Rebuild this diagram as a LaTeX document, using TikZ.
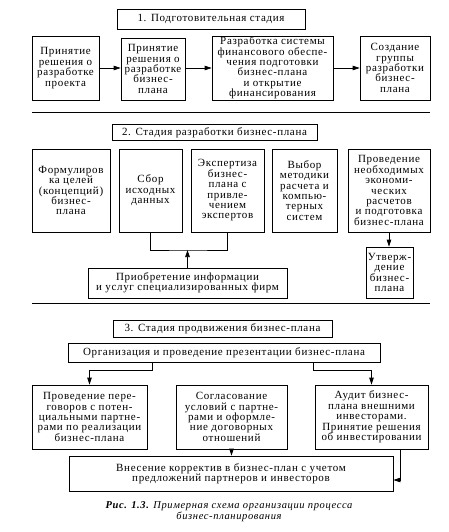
\documentclass[tikz,border=0pt]{standalone}
\usepackage{fontspec}
\setmainfont{Liberation Serif}[LetterSpace=6]
\usetikzlibrary{arrows.meta}
\begin{document}
\begin{tikzpicture}[x=1pt,y=-1pt,
  box/.style={draw, line width=0.7pt, align=center, inner sep=1pt, font=\fontsize{11}{10.4}\selectfont},
  arr/.style={-{Triangle[length=7pt,width=4.5pt]}, line width=0.7pt},
  con/.style={line width=0.7pt},
  sep/.style={line width=0.8pt}]
\useasboundingbox (0,0) rectangle (449,532);
\fill[white] (0,0) rectangle (449,532);

% ---------- Stage 1 ----------
\node[box, minimum width=188pt, minimum height=20pt] (t1) at (211,19) {1. Подготовительная стадия};
\node[box, minimum width=67pt, minimum height=64pt] (a1) at (65.5,68) {Принятие\\решения о\\разработке\\проекта};
\node[box, minimum width=64pt, minimum height=62pt] (a2) at (153,69) {Принятие\\решения о\\разработке\\бизнес-\\плана};
\node[box, minimum width=121pt, minimum height=64pt] (a3) at (272.5,68) {Разработка системы\\финансового обеспе-\\чения подготовки\\бизнес-плана\\и открытие\\финансирования};
\node[box, minimum width=70pt, minimum height=64pt] (a4) at (395,68) {Создание\\группы\\разработки\\бизнес-\\плана};
\draw[arr] (a1.east) -- (a1.east -| a2.west);
\draw[arr] (a2.east |- a1.east) -- (a1.east -| a3.west);
\draw[arr] (a3.east) -- (a3.east -| a4.west);
\draw[sep] (32,112) -- (430,112);

% ---------- Stage 2 ----------
\node[box, minimum width=205pt, minimum height=16pt] (t2) at (214.5,132.5) {2. Стадия разработки бизнес-плана};
\node[box, minimum width=78pt, minimum height=83pt] (b1) at (71,190.5) {Формулиров\\ка целей\\(концепций)\\бизнес-\\плана};
\node[box, minimum width=63pt, minimum height=83pt] (b2) at (150.5,190.5) {Сбор\\исходных\\данных};
\node[box, minimum width=73pt, minimum height=83pt] (b3) at (227.5,190.5) {Экспертиза\\бизнес-\\плана с\\привле-\\чением\\экспертов};
\node[box, minimum width=65pt, minimum height=83pt] (b4) at (304.5,190.5) {Выбор\\методики\\расчета и\\компью-\\терных\\систем};
\node[box, minimum width=82pt, minimum height=83pt] (b5) at (389,190.5) {Проведение\\необходимых\\экономи-\\ческих\\расчетов\\и подготовка\\бизнес-плана};
\node[box, minimum width=199pt, minimum height=30pt] (c1) at (187.5,283) {Приобретение информации\\и услуг специализированных фирм};
\node[box, minimum width=47pt, minimum height=51pt] (b6) at (389.5,272.5) {Утверж-\\дение\\бизнес-\\плана};
\coordinate (j) at (187.5,250);
\draw[con] (b2.south) |- (j) -| (b3.south);
\draw[arr] (c1.north) -- (j);
\draw[arr] (b5.south) -- (b5.south |- b6.north);
\draw[sep] (32,303) -- (430,303);

% ---------- Stage 3 ----------
\node[box, minimum width=219pt, minimum height=17pt] (t3) at (222.5,328.5) {3. Стадия продвижения бизнес-плана};
\node[box, minimum width=312pt, minimum height=19pt] (d0) at (224,352.5) {Организация и проведение презентации бизнес-плана};
\node[box, minimum width=115pt, minimum height=64pt] (d1) at (89.5,417) {Проведение пере-\\говоров с потен-\\циальными партне-\\рами по реализации\\бизнес-плана};
\node[box, minimum width=111pt, minimum height=64pt] (d2) at (231.5,417) {Согласование\\условий с партне-\\рами и оформле-\\ние договорных\\отношений};
\node[box, minimum width=113pt, minimum height=64pt] (d3) at (371.5,417) {Аудит бизнес-\\плана внешними\\инвесторами.\\Принятие решения\\об инвестировании};
\node[box, minimum width=324pt, minimum height=35pt] (e) at (231,473.5) {Внесение корректив в бизнес-план с учетом\\предложений партнеров и инвесторов};
\coordinate (l1) at (152,370);
\coordinate (r1) at (313,370);
\coordinate (k) at (400,480);
\draw[arr] (d0.south -| l1) |- (d1.north |- l1) -- (d1.north);
\draw[arr] (d0.south -| r1) |- (d3.north |- r1) -- (d3.north);
\draw[arr] (d2.south) -- (d2.south |- e.north);
\draw[arr] (d3.south -| k) |- (e.east |- k);

% ---------- Caption ----------
\node[align=center, font=\fontsize{10.5}{11}\selectfont\itshape] (cap) at (229,511.5) {\textbf{Рис. 1.3.} Примерная схема организации процесса\\бизнес-планирования};
\end{tikzpicture}
\end{document}
